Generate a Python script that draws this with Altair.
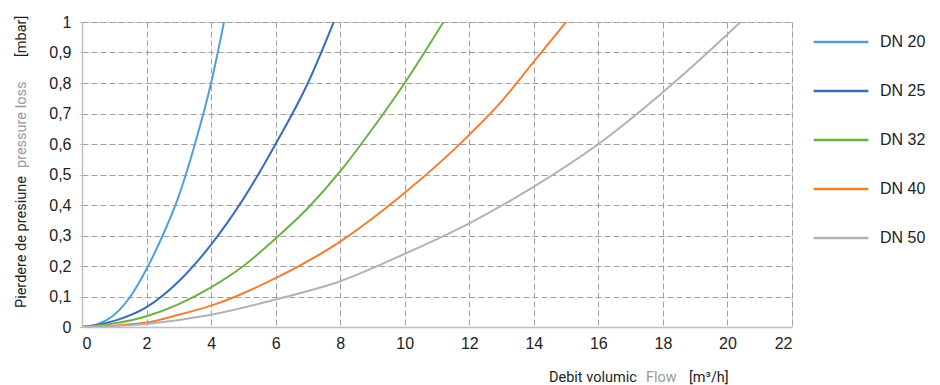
import altair as alt
import pandas as pd

series = ["DN 20", "DN 25", "DN 32", "DN 40", "DN 50"]
colors = ["#4F9FDC", "#3A6CBE", "#6CB044", "#F07F33", "#B2B2B2"]

dn20_x = [0, 0.5, 1, 1.5, 2, 2.5, 3, 3.5, 4, 4.4]
dn20_y = [0, 0.01, 0.04, 0.1, 0.19, 0.3, 0.43, 0.6, 0.8, 1.0]
dn25_x = [0, 1, 2, 3, 4, 5, 6, 7, 7.8]
dn25_y = [0, 0.02, 0.065, 0.15, 0.27, 0.42, 0.6, 0.8, 1.0]
dn32_x = [0, 2, 3, 4, 5, 6, 7, 8, 9, 10, 11.2]
dn32_y = [0, 0.035, 0.075, 0.13, 0.2, 0.29, 0.39, 0.51, 0.65, 0.8, 1.0]
dn40_x = [0, 2, 3, 4, 6, 8, 10, 12, 13, 14, 15]
dn40_y = [0, 0.015, 0.04, 0.07, 0.16, 0.28, 0.44, 0.63, 0.74, 0.87, 1.0]
dn50_x = [0, 2, 4, 6, 8, 10, 12, 14, 16, 18, 20, 20.4]
dn50_y = [0, 0.01, 0.04, 0.09, 0.15, 0.24, 0.34, 0.46, 0.6, 0.77, 0.96, 1.0]

x_ticks = list(range(0, 23, 2))
y_ticks = [round(i * 0.1, 1) for i in range(11)]

x_title_parts = ["Debit volumic", "Flow", "[m³/h]"]
y_title_parts = ["Pierdere de presiune", "pressure loss", "[mbar]"]
title_colors = ["#222222", "#9A9A9A", "#222222"]

rows = []
for name, xs, ys in zip(series,
                        [dn20_x, dn25_x, dn32_x, dn40_x, dn50_x],
                        [dn20_y, dn25_y, dn32_y, dn40_y, dn50_y]):
    for i, (a, b) in enumerate(zip(xs, ys)):
        rows.append({"series": name, "x": a, "y": b, "i": i})
df = pd.DataFrame(rows)

FONT = "Arial, Liberation Sans, sans-serif"
NARROW = "Roboto, sans-serif"

lines = alt.Chart(df).mark_line(strokeWidth=2, interpolate="monotone", clip=True).encode(
    x=alt.X("x:Q", scale=alt.Scale(domain=[0, 22], nice=False),
            axis=alt.Axis(values=x_ticks, title=None, grid=True, ticks=False,
                          labelFontSize=16, labelFont=FONT, labelColor="#222222",
                          labelPadding=8, domainColor="#BFBFBF", domainWidth=1.5,
                          gridColor="#A0A0A0", gridDash=[6, 3], gridWidth=1)),
    y=alt.Y("y:Q", scale=alt.Scale(domain=[0, 1], nice=False),
            axis=alt.Axis(values=y_ticks, title=None, grid=True, ticks=True, tickSize=3,
                          tickColor="#BFBFBF",
                          labelExpr="replace(format(datum.value, '.1~f'), '.', ',')",
                          labelFontSize=16, labelFont=FONT, labelColor="#222222",
                          labelPadding=8, domainColor="#BFBFBF", domainWidth=1.5,
                          gridColor="#A0A0A0", gridDash=[6, 3], gridWidth=1)),
    color=alt.Color("series:N", scale=alt.Scale(domain=series, range=colors),
                    legend=alt.Legend(title=None, orient="none", legendX=730, legendY=-9,
                                      symbolType="stroke", symbolSize=3000,
                                      symbolStrokeWidth=2.5, labelFontSize=16,
                                      labelFont=FONT, labelColor="#222222",
                                      labelOffset=10, rowPadding=12)),
    order="i:O",
)

xt = pd.DataFrame({"t": x_title_parts, "c": title_colors})
yt = pd.DataFrame({"t": y_title_parts, "c": title_colors})

x_pos = [467, 564, 607]
y_pos = [286, 146, 35]

layers = [lines]
for k in range(3):
    layers.append(alt.Chart(xt.iloc[[k]]).mark_text(
        align="left", baseline="alphabetic", fontSize=14.5, font=NARROW,
        color=title_colors[k]).encode(text="t:N", x=alt.value(x_pos[k]), y=alt.value(360)))
    layers.append(alt.Chart(yt.iloc[[k]]).mark_text(
        align="left", baseline="alphabetic", fontSize=14.5, font=NARROW, angle=270,
        color=title_colors[k]).encode(text="t:N", x=alt.value(-56), y=alt.value(y_pos[k])))

chart = alt.layer(*layers).properties(
    width=710, height=305,
    autosize=alt.AutoSizeParams(type="none"),
    padding={"left": 74, "top": 14, "right": 140, "bottom": 64},
).configure_view(stroke=None).configure(background="white")

chart.save("out.html", embed_options={"renderer": "svg", "actions": False})
